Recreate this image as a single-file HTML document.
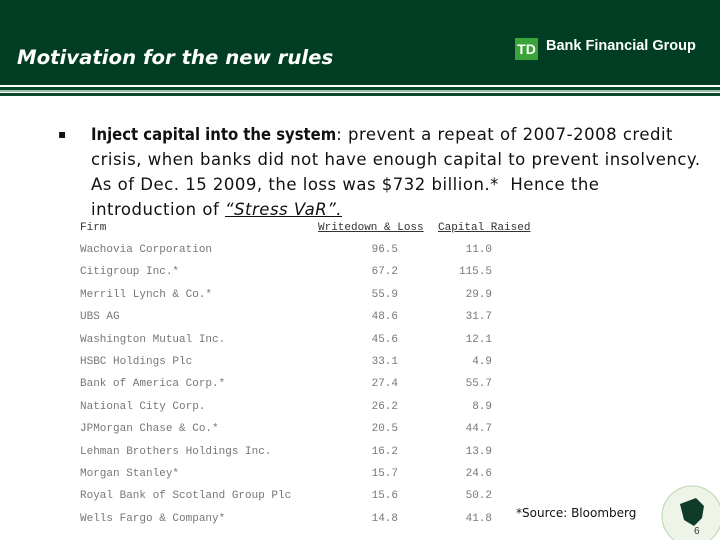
<!DOCTYPE html>
<html><head><meta charset="utf-8"><style>
body{margin:0;width:720px;height:540px;overflow:hidden;background:#fff;position:relative;font-family:"Liberation Sans",sans-serif}
.abs{position:absolute}
.tbl{font-family:"Liberation Mono",monospace;font-size:11px;color:#777;white-space:pre}
.bul{font-family:"DejaVu Sans",sans-serif;font-size:16.5px;color:#111;line-height:25px;white-space:nowrap;letter-spacing:0.5px}
</style></head><body>
<div class="abs" style="left:0;top:0;width:720px;height:85px;background:#003d22"></div>
<div class="abs" style="left:0;top:87px;width:720px;height:3px;background:#0b4a2c"></div>
<div class="abs" style="left:0;top:90px;width:720px;height:2px;background:#9fbfaa"></div>
<div class="abs" style="left:0;top:93px;width:720px;height:3px;background:#0b4a2c"></div>
<div class="abs" style="left:17px;top:46px;color:#fff;font-style:italic;font-weight:bold;font-size:19.7px;font-family:'DejaVu Sans',sans-serif">Motivation for the new rules</div>
<div class="abs" style="left:515px;top:38px;width:23px;height:22px;background:#3aa33a;color:#fff;font-weight:bold;font-size:14px;line-height:22px;text-align:center">TD</div>
<div class="abs" style="left:546px;top:38px;color:#fff;font-weight:bold;font-size:14.5px">Bank Financial Group</div>
<div class="abs bul" style="left:58px;top:122px;font-size:12px">▪</div>
<div class="abs bul" style="left:91px;top:122px"><b style="font-family:'DejaVu Sans Condensed','DejaVu Sans',sans-serif;letter-spacing:0">Inject capital into the system</b>: prevent a repeat of 2007-2008 credit<br>crisis, when banks did not have enough capital to prevent insolvency.<br>As of Dec. 15 2009, the loss was $732 billion.*&nbsp; Hence the<br>introduction of <i><u>“Stress VaR”.</u></i></div>
<div id="tbl"></div>
<div class="abs" style="left:516px;top:506px;font-size:12px;font-family:'DejaVu Sans',sans-serif;color:#111">*Source: Bloomberg</div>
<svg class="abs" style="left:660px;top:482px" width="60" height="58">
<circle cx="32" cy="34" r="30" fill="#eef5e8" stroke="#b9d6b0"/>
<path d="M20 22 L36 16 L44 24 L42 36 L34 44 L24 38 Z" fill="#0f3b2a"/>
</svg>
<div class="abs" style="left:694px;top:526px;font-size:10px;color:#333">6</div>
<script>
const firms=["Wachovia Corporation","Citigroup Inc.*","Merrill Lynch & Co.*","UBS AG","Washington Mutual Inc.","HSBC Holdings Plc","Bank of America Corp.*","National City Corp.","JPMorgan Chase & Co.*","Lehman Brothers Holdings Inc.","Morgan Stanley*","Royal Bank of Scotland Group Plc","Wells Fargo & Company*"];
const writedowns=["96.5","67.2","55.9","48.6","45.6","33.1","27.4","26.2","20.5","16.2","15.7","15.6","14.8"];
const capital=["11.0","115.5","29.9","31.7","12.1","4.9","55.7","8.9","44.7","13.9","24.6","50.2","41.8"];
const host=document.getElementById('tbl');
function add(txt,x,y,name,align,extra){
  const d=document.createElement('div');
  d.className='abs tbl';
  
  
  d.textContent=txt;
  d.style.top=y+'px';
  if(align==='r'){d.style.right=(720-x)+'px';}else{d.style.left=x+'px';}
  if(extra)d.style.cssText+=extra;
  host.appendChild(d);
}
add('Firm',80,222,'firm-header','l','color:#333');
add('Writedown & Loss',318,222,'writedown-header','l','color:#333;text-decoration:underline');
add('Capital Raised',438,222,'capital-header','l','color:#333;text-decoration:underline');
for(let i=0;i<firms.length;i++){
  const y=244+i*22.4;
  add(firms[i],80,y,'firm-name','l');
  add(writedowns[i],398,y,'writedown-value','r');
  add(capital[i],492,y,'capital-value','r');
}
</script>
</body></html>
